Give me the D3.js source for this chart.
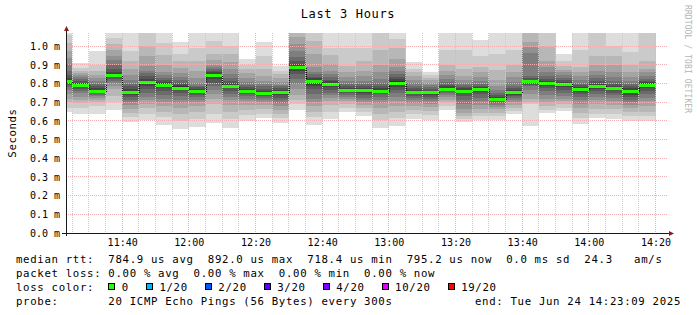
<!DOCTYPE html>
<html>
<head>
<meta charset="utf-8">
<script src="https://cdn.jsdelivr.net/npm/d3@7"></script>
<style>
  html, body { margin: 0; padding: 0; background: #fff; }
  svg { display: block; font-family: "DejaVu Sans Mono", monospace; }
  text { white-space: pre; }
</style>
</head>
<body>
<div id="chart"></div>
<script>
// SmokePing "Last 3 Hours" detail graph: 20 pings every 300 s, drawn as
// nested grey smoke bands around a green (0 % loss) median step.

var graphStart = "11:23:09";
var graphEnd = "14:23:09";
var yMax = 1.0714; // ms, upper limit of the value axis

// 5-minute slots (start time of each step)
var slots = ["11:20", "11:25", "11:30", "11:35", "11:40", "11:45", "11:50", "11:55",
             "12:00", "12:05", "12:10", "12:15", "12:20", "12:25", "12:30", "12:35",
             "12:40", "12:45", "12:50", "12:55", "13:00", "13:05", "13:10", "13:15",
             "13:20", "13:25", "13:30", "13:35", "13:40", "13:45", "13:50", "13:55",
             "14:00", "14:05", "14:10", "14:15"];

// median rtt per slot, ms
var medians = [0.815, 0.793, 0.761, 0.847, 0.755, 0.811, 0.793, 0.779,
               0.761, 0.846, 0.787, 0.761, 0.751, 0.755, 0.889, 0.812,
               0.797, 0.765, 0.765, 0.763, 0.805, 0.756, 0.754, 0.774,
               0.763, 0.772, 0.716, 0.754, 0.812, 0.804, 0.796, 0.771,
               0.786, 0.779, 0.761, 0.795];

// the 20 sorted ping times of each slot, ms
var pings = [
  [0.650, 0.668, 0.700, 0.720, 0.745, 0.765, 0.780, 0.795, 0.805, 0.812, 0.818, 0.830, 0.845, 0.870, 0.905, 0.940, 0.975, 1.020, 1.060, 1.100],
  [0.636, 0.672, 0.695, 0.712, 0.730, 0.748, 0.763, 0.772, 0.780, 0.790, 0.798, 0.805, 0.815, 0.826, 0.836, 0.845, 0.855, 0.868, 0.886, 0.909],
  [0.639, 0.680, 0.700, 0.712, 0.722, 0.732, 0.740, 0.748, 0.752, 0.758, 0.766, 0.775, 0.785, 0.800, 0.815, 0.830, 0.848, 0.870, 0.900, 0.975],
  [0.657, 0.700, 0.735, 0.770, 0.790, 0.805, 0.815, 0.825, 0.835, 0.843, 0.850, 0.862, 0.880, 0.900, 0.925, 0.950, 0.980, 1.010, 1.045, 1.100],
  [0.595, 0.620, 0.645, 0.665, 0.685, 0.700, 0.715, 0.728, 0.740, 0.750, 0.760, 0.772, 0.785, 0.800, 0.820, 0.845, 0.880, 0.920, 0.975, 1.100],
  [0.607, 0.640, 0.670, 0.690, 0.710, 0.730, 0.750, 0.770, 0.790, 0.805, 0.815, 0.825, 0.840, 0.855, 0.870, 0.895, 0.950, 1.000, 1.100, 1.120],
  [0.577, 0.620, 0.650, 0.680, 0.700, 0.720, 0.740, 0.760, 0.775, 0.788, 0.798, 0.808, 0.818, 0.830, 0.845, 0.865, 0.900, 0.955, 1.020, 1.100],
  [0.559, 0.600, 0.640, 0.670, 0.695, 0.715, 0.735, 0.752, 0.765, 0.775, 0.785, 0.795, 0.805, 0.818, 0.835, 0.855, 0.885, 0.920, 0.960, 1.023],
  [0.568, 0.610, 0.650, 0.680, 0.700, 0.715, 0.728, 0.740, 0.750, 0.758, 0.765, 0.772, 0.780, 0.790, 0.805, 0.830, 0.870, 0.920, 0.990, 1.100],
  [0.589, 0.640, 0.690, 0.720, 0.745, 0.765, 0.785, 0.805, 0.825, 0.840, 0.852, 0.862, 0.870, 0.878, 0.888, 0.900, 0.925, 0.960, 1.030, 1.100],
  [0.565, 0.610, 0.650, 0.685, 0.710, 0.730, 0.745, 0.760, 0.775, 0.785, 0.795, 0.805, 0.815, 0.830, 0.850, 0.880, 0.915, 0.960, 1.000, 1.100],
  [0.598, 0.630, 0.660, 0.685, 0.705, 0.720, 0.733, 0.743, 0.750, 0.757, 0.764, 0.772, 0.782, 0.795, 0.810, 0.830, 0.855, 0.880, 0.900, 0.930],
  [0.618, 0.640, 0.665, 0.685, 0.700, 0.712, 0.722, 0.732, 0.740, 0.747, 0.754, 0.762, 0.772, 0.785, 0.800, 0.815, 0.840, 0.880, 0.950, 1.023],
  [0.589, 0.615, 0.640, 0.660, 0.680, 0.698, 0.712, 0.725, 0.738, 0.750, 0.760, 0.768, 0.775, 0.785, 0.795, 0.810, 0.830, 0.850, 0.870, 0.896],
  [0.661, 0.690, 0.715, 0.740, 0.770, 0.800, 0.825, 0.850, 0.870, 0.885, 0.893, 0.905, 0.920, 0.945, 0.975, 1.010, 1.050, 1.100, 1.120, 1.150],
  [0.577, 0.620, 0.650, 0.680, 0.700, 0.720, 0.745, 0.770, 0.790, 0.805, 0.818, 0.828, 0.838, 0.850, 0.865, 0.890, 0.960, 1.030, 1.100, 1.120],
  [0.613, 0.650, 0.685, 0.705, 0.722, 0.738, 0.752, 0.768, 0.782, 0.793, 0.802, 0.812, 0.822, 0.835, 0.850, 0.870, 0.905, 0.955, 0.990, 1.100],
  [0.648, 0.670, 0.690, 0.705, 0.718, 0.730, 0.740, 0.750, 0.757, 0.763, 0.770, 0.778, 0.788, 0.800, 0.815, 0.835, 0.860, 0.895, 0.990, 1.100],
  [0.628, 0.650, 0.668, 0.685, 0.700, 0.712, 0.725, 0.738, 0.750, 0.760, 0.768, 0.776, 0.785, 0.798, 0.815, 0.840, 0.870, 0.920, 0.990, 1.100],
  [0.565, 0.605, 0.640, 0.670, 0.695, 0.715, 0.730, 0.742, 0.752, 0.760, 0.766, 0.775, 0.788, 0.805, 0.825, 0.860, 0.900, 0.980, 1.100, 1.120],
  [0.573, 0.615, 0.650, 0.680, 0.705, 0.728, 0.748, 0.765, 0.780, 0.798, 0.812, 0.825, 0.838, 0.852, 0.868, 0.890, 0.930, 0.990, 1.040, 1.100],
  [0.610, 0.635, 0.660, 0.680, 0.695, 0.710, 0.722, 0.735, 0.745, 0.752, 0.760, 0.768, 0.778, 0.790, 0.805, 0.822, 0.840, 0.860, 0.880, 0.918],
  [0.603, 0.630, 0.655, 0.675, 0.692, 0.705, 0.718, 0.730, 0.740, 0.748, 0.755, 0.762, 0.770, 0.780, 0.792, 0.805, 0.818, 0.832, 0.845, 0.862],
  [0.659, 0.680, 0.700, 0.715, 0.728, 0.740, 0.750, 0.760, 0.767, 0.772, 0.778, 0.785, 0.795, 0.808, 0.825, 0.845, 0.870, 0.900, 0.980, 1.100],
  [0.594, 0.610, 0.628, 0.645, 0.665, 0.690, 0.715, 0.735, 0.750, 0.760, 0.768, 0.775, 0.783, 0.792, 0.805, 0.820, 0.840, 0.880, 0.980, 1.100],
  [0.605, 0.625, 0.645, 0.665, 0.685, 0.705, 0.725, 0.745, 0.758, 0.768, 0.775, 0.782, 0.790, 0.800, 0.815, 0.835, 0.860, 0.890, 0.950, 1.036],
  [0.605, 0.625, 0.645, 0.662, 0.676, 0.688, 0.698, 0.705, 0.710, 0.714, 0.720, 0.728, 0.738, 0.750, 0.765, 0.785, 0.820, 0.875, 0.960, 1.100],
  [0.635, 0.655, 0.672, 0.688, 0.700, 0.712, 0.722, 0.732, 0.740, 0.748, 0.756, 0.765, 0.775, 0.790, 0.810, 0.835, 0.860, 0.900, 0.980, 1.100],
  [0.573, 0.690, 0.704, 0.720, 0.745, 0.765, 0.785, 0.795, 0.803, 0.810, 0.815, 0.822, 0.830, 0.840, 0.962, 0.998, 1.025, 1.090, 1.120, 1.150],
  [0.641, 0.660, 0.680, 0.700, 0.720, 0.740, 0.760, 0.778, 0.790, 0.798, 0.806, 0.815, 0.825, 0.840, 0.860, 0.890, 0.920, 1.000, 1.100, 1.120],
  [0.654, 0.672, 0.690, 0.705, 0.720, 0.735, 0.750, 0.765, 0.780, 0.790, 0.800, 0.810, 0.820, 0.830, 0.845, 0.860, 0.875, 0.895, 0.920, 0.957],
  [0.586, 0.615, 0.645, 0.670, 0.690, 0.710, 0.728, 0.745, 0.758, 0.766, 0.774, 0.782, 0.792, 0.805, 0.820, 0.840, 0.865, 0.890, 0.980, 1.100],
  [0.617, 0.640, 0.665, 0.690, 0.710, 0.728, 0.745, 0.760, 0.772, 0.782, 0.790, 0.800, 0.812, 0.828, 0.848, 0.870, 0.900, 0.950, 1.100, 1.120],
  [0.612, 0.640, 0.665, 0.685, 0.705, 0.722, 0.738, 0.752, 0.765, 0.775, 0.782, 0.790, 0.800, 0.815, 0.835, 0.860, 0.900, 0.950, 1.000, 1.100],
  [0.600, 0.625, 0.648, 0.668, 0.685, 0.700, 0.715, 0.728, 0.740, 0.752, 0.765, 0.775, 0.785, 0.800, 0.815, 0.835, 0.860, 0.900, 0.970, 1.100],
  [0.600, 0.625, 0.650, 0.680, 0.705, 0.725, 0.745, 0.760, 0.775, 0.788, 0.800, 0.808, 0.815, 0.825, 0.840, 0.860, 0.880, 0.920, 1.100, 1.120]
];

var yTicks = [0.0, 0.1, 0.2, 0.3, 0.4, 0.5, 0.6, 0.7, 0.8, 0.9, 1.0];
var xTicks = ["11:40", "12:00", "12:20", "12:40", "13:00", "13:20", "13:40", "14:00", "14:20"];

// legend numbers
var rttStats = [784.9, 892.0, 718.4, 795.2];
var rttNames = ["avg", "max", "min", "now"];
var rttSd = 0.0;
var rttAm = 24.3;
var lossStats = [0.00, 0.00, 0.00, 0.00];
var lossLabels = ["0", "1/20", "2/20", "3/20", "4/20", "10/20", "19/20"];
var lossColors = ["#26ff00", "#00b8ff", "#0059ff", "#5e00ff", "#7e00ff", "#dd00ff", "#ff0000"];
var probeText = "20 ICMP Echo Pings (56 Bytes) every 300s";
var endText = "Tue Jun 24 14:23:09 2025";

(function () {
  var W = 697, H = 315;
  var P = { left: 66, top: 33, width: 600, height: 200 };
  var bottom = P.top + P.height;

  var parse = d3.timeParse("%Y-%m-%d %H:%M:%S");
  var at = function (hm) { return parse("2025-06-24 " + (hm.length === 5 ? hm + ":00" : hm)); };
  var t0 = at(graphStart), t1 = at(graphEnd);

  var x = d3.scaleTime().domain([t0, t1]).range([P.left, P.left + P.width]);
  var y = d3.scaleLinear().domain([0, yMax]).range([bottom, P.top]);

  var svg = d3.select("#chart").append("svg")
    .attr("width", W).attr("height", H)
    .attr("viewBox", [0, 0, W, H]);

  svg.append("rect").attr("width", W).attr("height", H).attr("fill", "#fff");

  svg.append("clipPath").attr("id", "plotclip")
    .append("rect").attr("x", P.left).attr("y", P.top)
    .attr("width", P.width + 1).attr("height", P.height);

  // -- smoke: band i spans ping i .. ping (21-i), darker towards the middle --
  var half = 10;
  function grey(i) {
    var c = Math.floor(190 / half * (half - i)) + 50;
    return d3.rgb(c, c, c).formatHex();
  }
  var bands = [];
  pings.forEach(function (p, s) {
    var a = at(slots[s]);
    var b = new Date(a.getTime() + 300000);
    for (var i = 1; i <= half; i++) {
      bands.push({ x0: a, x1: b, lo: p[i - 1], hi: p[20 - i], c: grey(i) });
    }
  });

  var plot = svg.append("g").attr("clip-path", "url(#plotclip)");
  plot.append("g").attr("shape-rendering", "crispEdges")
    .selectAll("rect").data(bands).join("rect")
    .attr("x", function (d) { return Math.round(x(d.x0)); })
    .attr("width", function (d) { return Math.round(x(d.x1)) - Math.round(x(d.x0)); })
    .attr("y", function (d) { return Math.round(y(Math.min(d.hi, yMax * 1.05))); })
    .attr("height", function (d) {
      return Math.round(y(d.lo)) - Math.round(y(Math.min(d.hi, yMax * 1.05)));
    })
    .attr("fill", function (d) { return d.c; });

  // -- grid (drawn over the smoke, like rrdtool) ------------------------------
  var grid = svg.append("g").attr("shape-rendering", "crispEdges").attr("fill", "none");
  var majorTimes = xTicks.map(at);
  var isMajor = function (t) {
    return majorTimes.some(function (m) { return m.getTime() === t.getTime(); });
  };
  var minorTimes = d3.timeMinute.every(5).range(t0, t1).filter(function (t) { return !isMajor(t); });
  var mgrid = "#f0b0b0", mingrid = "#cccccc";

  grid.selectAll("line.minor").data(minorTimes).join("line")
    .attr("class", "minor")
    .attr("x1", function (d) { return Math.floor(x(d)) + 0.5; })
    .attr("x2", function (d) { return Math.floor(x(d)) + 0.5; })
    .attr("y1", P.top).attr("y2", bottom)
    .attr("stroke", mingrid).attr("stroke-dasharray", "1,1");

  grid.selectAll("line.vmajor").data(majorTimes).join("line")
    .attr("class", "vmajor")
    .attr("x1", function (d) { return Math.floor(x(d)) + 0.5; })
    .attr("x2", function (d) { return Math.floor(x(d)) + 0.5; })
    .attr("y1", P.top).attr("y2", bottom)
    .attr("stroke", mgrid).attr("stroke-dasharray", "1,1");

  grid.selectAll("line.hmajor").data(yTicks.filter(function (v) { return v > 0; })).join("line")
    .attr("class", "hmajor")
    .attr("x1", P.left).attr("x2", P.left + P.width + 2)
    .attr("y1", function (d) { return Math.floor(y(d)) + 0.5; })
    .attr("y2", function (d) { return Math.floor(y(d)) + 0.5; })
    .attr("stroke", mgrid).attr("stroke-dasharray", "1,1");

  // -- median: dark step line plus a green band (loss colour for 0/20) -------
  var steps = slots.map(function (s, i) { return { t: at(s), v: medians[i] }; });
  steps.push({ t: new Date(at(slots[slots.length - 1]).getTime() + 300000), v: medians[medians.length - 1] });

  var medLine = d3.line()
    .x(function (d) { return Math.round(x(d.t)) + 0.5; })
    .y(function (d) { return Math.round(y(d.v)) + 0.5; })
    .curve(d3.curveStepAfter);

  plot.append("path").datum(steps)
    .attr("d", medLine)
    .attr("fill", "none").attr("stroke", "#101010")
    .attr("stroke-dasharray", "1,1")
    .attr("shape-rendering", "crispEdges");

  plot.append("g").attr("shape-rendering", "crispEdges")
    .selectAll("rect").data(slots).join("rect")
    .attr("x", function (d) { return Math.round(x(at(d))); })
    .attr("width", function (d) {
      var a = at(d);
      return Math.round(x(new Date(a.getTime() + 300000))) - Math.round(x(a));
    })
    .attr("y", function (d, i) { return Math.round(y(medians[i])) - 1; })
    .attr("height", 3)
    .attr("fill", lossColors[0]);

  // -- axes ------------------------------------------------------------------
  var axisCol = "#1a1a1a", arrowCol = "#8b1c1c";
  svg.append("line")
    .attr("x1", P.left + 0.5).attr("x2", P.left + 0.5)
    .attr("y1", bottom + 3).attr("y2", P.top - 4)
    .attr("stroke", axisCol).attr("shape-rendering", "crispEdges");
  svg.append("line")
    .attr("x1", P.left - 4).attr("x2", P.left + P.width + 5)
    .attr("y1", bottom + 0.5).attr("y2", bottom + 0.5)
    .attr("stroke", axisCol).attr("shape-rendering", "crispEdges");
  svg.append("path")
    .attr("d", "M" + (P.left - 2) + "," + (P.top - 2) + "L" + (P.left + 3) + "," + (P.top - 2) +
               "L" + (P.left + 0.5) + "," + (P.top - 7) + "Z")
    .attr("fill", arrowCol);
  svg.append("path")
    .attr("d", "M" + (P.left + P.width + 3) + "," + (bottom - 2) + "L" + (P.left + P.width + 3) + "," + (bottom + 3) +
               "L" + (P.left + P.width + 8) + "," + (bottom + 0.5) + "Z")
    .attr("fill", arrowCol);

  var yAxis = d3.axisLeft(y).tickValues(yTicks).tickSize(0).tickPadding(6)
    .tickFormat(function (d) { return d.toFixed(1) + " m"; });
  var gy = svg.append("g").attr("transform", "translate(" + P.left + ",0)").call(yAxis);
  gy.select(".domain").remove();
  gy.selectAll("text").attr("font-family", "DejaVu Sans Mono").attr("font-size", 10).attr("fill", "#000");

  var xAxis = d3.axisBottom(x).tickValues(majorTimes).tickSize(0).tickPadding(6)
    .tickFormat(d3.timeFormat("%H:%M"));
  var gx = svg.append("g").attr("transform", "translate(0," + bottom + ")").call(xAxis);
  gx.select(".domain").remove();
  gx.selectAll("text").attr("font-family", "DejaVu Sans Mono").attr("font-size", 10).attr("fill", "#000");

  // -- titles ----------------------------------------------------------------
  svg.append("text")
    .attr("x", 348).attr("y", 17.7).attr("text-anchor", "middle")
    .attr("font-size", 12).attr("letter-spacing", 0.65)
    .text("Last 3 Hours");

  svg.append("text")
    .attr("transform", "translate(15.5," + (P.top + P.height / 2) + ") rotate(-90)")
    .attr("text-anchor", "middle")
    .attr("font-size", 10.7).attr("letter-spacing", 0.6)
    .text("Seconds");

  svg.append("text")
    .attr("transform", "translate(684.5,5) rotate(90)")
    .attr("font-size", 8).attr("fill", "#b4b4b4").attr("letter-spacing", 0.1)
    .text("RRDTOOL / TOBI OETIKER");

  // -- legend ----------------------------------------------------------------
  var lx = 16, ly = 263.3, lh = 13.9;
  var legend = svg.append("g").attr("font-size", 10.7).attr("letter-spacing", 0.67).attr("fill", "#000");

  var rttLine = "median rtt:  " + rttStats.map(function (v, i) {
    return v.toFixed(1) + " us " + rttNames[i];
  }).join("  ") + "  " + rttSd.toFixed(1) + " ms sd  " + rttAm.toFixed(1) + "   am/s";
  legend.append("text").attr("x", lx).attr("y", ly).text(rttLine);

  var lossLine = "packet loss: " + lossStats.map(function (v, i) {
    return v.toFixed(2) + " % " + rttNames[i];
  }).join("  ");
  legend.append("text").attr("x", lx).attr("y", ly + lh).text(lossLine);

  legend.append("text").attr("x", lx).attr("y", ly + 2 * lh).text("loss color:");
  var bx = 108.3;
  lossLabels.forEach(function (lab, i) {
    legend.append("rect")
      .attr("x", Math.round(bx) + 0.5).attr("y", ly + 2 * lh - 7.5)
      .attr("width", 6).attr("height", 6)
      .attr("fill", lossColors[i]).attr("stroke", "#000").attr("stroke-width", 1)
      .attr("shape-rendering", "crispEdges");
    var t = legend.append("text").attr("x", bx + 13.5).attr("y", ly + 2 * lh).text(lab);
    bx = bx + 13.5 + t.node().getComputedTextLength() + 17;
  });

  legend.append("text").attr("x", lx).attr("y", ly + 3 * lh).text("probe:       " + probeText);
  legend.append("text").attr("x", 681).attr("y", ly + 3 * lh).attr("text-anchor", "end")
    .text("end: " + endText);
})();
</script>
</body>
</html>
